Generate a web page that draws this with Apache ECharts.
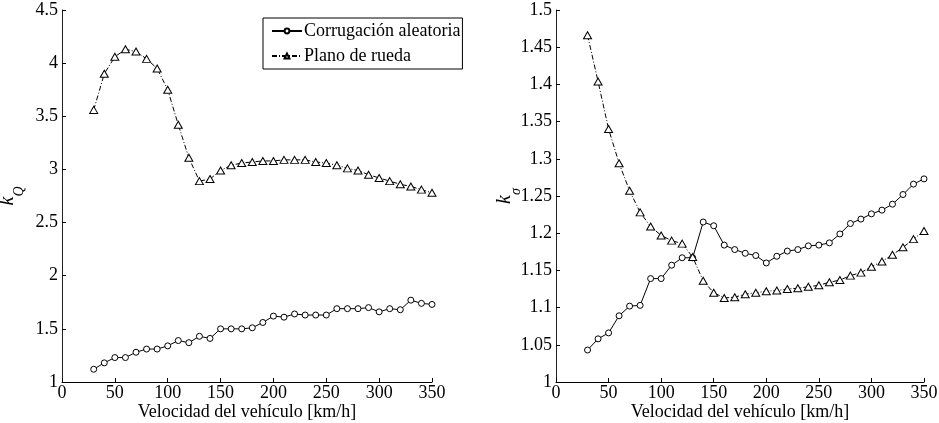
<!DOCTYPE html>
<html>
<head>
<meta charset="utf-8">
<script src="https://cdn.jsdelivr.net/npm/echarts@6/dist/echarts.min.js"></script>
<style>
  html, body { margin: 0; padding: 0; background: #fff; }
  #chart { width: 939px; height: 423px; }
</style>
</head>
<body>
<div id="chart"></div>
<script>
// velocidad del vehículo [km/h]
const speeds = [30, 40, 50, 60, 70, 80, 90, 100, 110, 120, 130, 140, 150, 160, 170, 180, 190,
  200, 210, 220, 230, 240, 250, 260, 270, 280, 290, 300, 310, 320, 330, 340, 350]

// k_Q
const kQCorrugacion = [1.12, 1.18, 1.23, 1.23, 1.28, 1.31, 1.31, 1.34, 1.39, 1.37, 1.43, 1.41,
  1.50, 1.50, 1.50, 1.51, 1.56, 1.62, 1.61, 1.64, 1.63, 1.63, 1.63, 1.69, 1.69, 1.69, 1.70,
  1.66, 1.69, 1.68, 1.77, 1.74, 1.73]
const kQPlano = [3.56, 3.90, 4.06, 4.13, 4.11, 4.04, 3.95, 3.75, 3.42, 3.11, 2.89, 2.91,
  2.99, 3.04, 3.06, 3.07, 3.08, 3.08, 3.09, 3.09, 3.09, 3.07, 3.06, 3.04, 3.01, 2.99, 2.95,
  2.92, 2.89, 2.86, 2.84, 2.81, 2.78]

// k_sigma
const kSCorrugacion = [1.043, 1.058, 1.066, 1.089, 1.102, 1.103, 1.139, 1.139, 1.157, 1.167,
  1.167, 1.215, 1.210, 1.184, 1.178, 1.173, 1.170, 1.160, 1.169, 1.176, 1.178, 1.183, 1.184,
  1.187, 1.199, 1.213, 1.219, 1.226, 1.231, 1.239, 1.252, 1.266, 1.273]
const kSPlano = [1.466, 1.404, 1.340, 1.294, 1.257, 1.228, 1.209, 1.197, 1.190, 1.186, 1.168,
  1.136, 1.120, 1.113, 1.114, 1.118, 1.120, 1.122, 1.123, 1.125, 1.126, 1.128, 1.130, 1.134,
  1.137, 1.143, 1.147, 1.155, 1.162, 1.171, 1.181, 1.192, 1.203]

const nameCorr = 'Corrugación aleatoria'
const namePlano = 'Plano de rueda'
const xTitle = 'Velocidad del vehículo [km/h]'

const font = 'Liberation Serif'

const pairs = (ys) => speeds.map((x, i) => [x, ys[i]])

const xAxisBase = (gridIndex) => ({
  type: 'value',
  gridIndex,
  min: 0,
  max: 350,
  interval: 50,
  name: xTitle,
  nameLocation: 'middle',
  nameGap: 21,
  nameMoveOverlap: false,
  nameTextStyle: { fontFamily: font, fontSize: 18, color: '#000' },
  axisLine: { show: true, onZero: false, lineStyle: { color: '#000', width: 1 } },
  axisTick: { show: true, inside: true, length: 4, lineStyle: { color: '#000' } },
  axisLabel: { fontFamily: font, fontSize: 18, color: '#000', margin: 2 },
  splitLine: { show: false }
})

const yAxisBase = (gridIndex, min, max, interval, sub, gap) => ({
  type: 'value',
  gridIndex,
  min,
  max,
  interval,
  name: '{k|k}{s|' + sub + '}',
  nameLocation: 'middle',
  nameRotate: 90,
  nameGap: gap,
  nameMoveOverlap: false,
  nameTextStyle: {
    rich: {
      k: { fontFamily: font, fontStyle: 'italic', fontSize: 20, color: '#000', verticalAlign: 'top', lineHeight: 28 },
      s: { fontFamily: font, fontStyle: 'italic', fontSize: 14, color: '#000', verticalAlign: 'bottom', lineHeight: 28 }
    }
  },
  axisLine: { show: true, onZero: false, lineStyle: { color: '#222', width: 1 } },
  axisTick: { show: true, inside: true, length: 4, lineStyle: { color: '#000' } },
  axisLabel: { fontFamily: font, fontSize: 18, color: '#000', margin: 4 },
  splitLine: { show: false }
})

const corrSeries = (idx, data) => ({
  name: nameCorr,
  type: 'line',
  xAxisIndex: idx,
  yAxisIndex: idx,
  data: pairs(data),
  symbol: 'circle',
  symbolSize: 6,
  showAllSymbol: true,
  lineStyle: { color: '#000', width: 1, type: 'solid' },
  itemStyle: { color: '#fff', borderColor: '#000', borderWidth: 1 },
  animation: false
})

const planoSeries = (idx, data) => ({
  name: namePlano,
  type: 'line',
  xAxisIndex: idx,
  yAxisIndex: idx,
  data: pairs(data),
  symbol: 'triangle',
  symbolSize: [8, 7],
  showAllSymbol: true,
  lineStyle: { color: '#000', width: 1, type: [5, 2, 1, 2] },
  itemStyle: { color: '#fff', borderColor: '#000', borderWidth: 1 },
  animation: false
})

const chart = echarts.init(document.getElementById('chart'), null, { renderer: 'canvas' })

const option = {
  backgroundColor: '#fff',
  animation: false,
  grid: [
    { left: 62, right: 507, top: 10, bottom: 41, containLabel: false, outerBoundsMode: 'none' },
    { left: 556, right: 15, top: 10, bottom: 41, containLabel: false, outerBoundsMode: 'none' }
  ],
  legend: {
    data: [nameCorr, namePlano],
    orient: 'vertical',
    left: 263,
    top: 18,
    itemWidth: 30,
    itemHeight: 6,
    itemGap: 5,
    padding: [3, 2, 3, 8],
    backgroundColor: '#fff',
    borderColor: '#000',
    borderWidth: 1,
    borderRadius: 0,
    textStyle: { fontFamily: font, fontSize: 18, color: '#000', padding: [0, 0, 0, -3], lineHeight: 20 }
  },
  xAxis: [xAxisBase(0), xAxisBase(1)],
  yAxis: [
    yAxisBase(0, 1, 4.5, 0.5, 'Q', 36),
    yAxisBase(1, 1, 1.5, 0.05, 'σ', 33)
  ],
  series: [
    corrSeries(0, kQCorrugacion),
    planoSeries(0, kQPlano),
    corrSeries(1, kSCorrugacion),
    planoSeries(1, kSPlano)
  ]
}

chart.setOption(option)
window.addEventListener('resize', () => chart.resize())
</script>
</body>
</html>
